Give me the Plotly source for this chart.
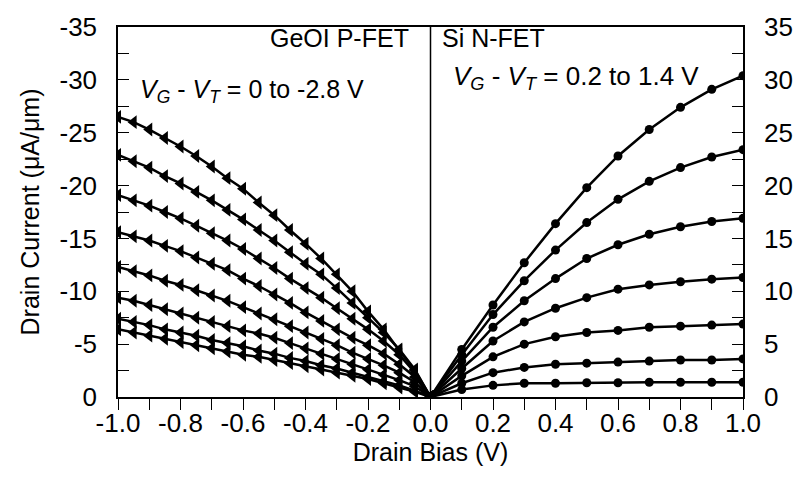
import plotly.graph_objects as go

# ---------------- data ----------------
# GeOI P-FET: drain bias 0 to -1.0 V (step 0.05), |I_D| in uA/um (plotted upward, labeled negative)
p_bias = [-1.0, -0.95, -0.9, -0.85, -0.8, -0.75, -0.7, -0.65, -0.6, -0.55, -0.5,
          -0.45, -0.4, -0.35, -0.3, -0.25, -0.2, -0.15, -0.1, -0.05, 0.0]
p_vgvt = ["-2.8", "-2.4", "-2.0", "-1.6", "-1.2", "-0.8", "-0.4", "0"]
p_curves = [
    [26.5, 26.0, 25.3, 24.5, 23.7, 22.8, 21.8, 20.7, 19.7, 18.4, 17.2, 15.8, 14.5, 13.1, 11.6, 10.0, 8.1, 6.4, 4.4, 2.5, 0.0],
    [22.9, 22.3, 21.7, 20.9, 20.2, 19.4, 18.6, 17.7, 16.8, 15.8, 14.8, 13.7, 12.6, 11.6, 10.3, 8.9, 7.5, 6.1, 4.5, 2.6, 0.0],
    [19.1, 18.6, 18.1, 17.5, 16.9, 16.2, 15.5, 14.8, 14.0, 13.1, 12.2, 11.2, 10.3, 9.4, 8.4, 7.4, 6.4, 5.3, 4.0, 2.3, 0.0],
    [15.6, 15.2, 14.8, 14.3, 13.8, 13.2, 12.6, 12.0, 11.2, 10.5, 9.7, 8.9, 8.0, 7.2, 6.4, 5.6, 4.9, 4.1, 3.1, 1.9, 0.0],
    [12.3, 11.9, 11.5, 11.0, 10.6, 10.1, 9.6, 9.1, 8.5, 7.9, 7.35, 6.7, 6.1, 5.5, 4.9, 4.2, 3.6, 3.0, 2.3, 1.4, 0.0],
    [9.4, 9.1, 8.7, 8.3, 7.9, 7.5, 7.1, 6.7, 6.3, 6.0, 5.6, 5.1, 4.6, 4.1, 3.6, 3.1, 2.6, 2.1, 1.6, 1.0, 0.0],
    [7.4, 7.1, 6.8, 6.4, 6.1, 5.8, 5.4, 5.1, 4.8, 4.4, 4.1, 3.7, 3.4, 3.0, 2.7, 2.3, 1.9, 1.5, 1.1, 0.6, 0.0],
    [6.4, 6.1, 5.8, 5.5, 5.2, 4.9, 4.6, 4.3, 4.0, 3.8, 3.5, 3.2, 2.9, 2.6, 2.3, 2.0, 1.7, 1.3, 0.9, 0.5, 0.0],
]

# Si N-FET: drain bias 0 to 1.0 V (step 0.1), I_D in uA/um
n_bias = [0.0, 0.1, 0.2, 0.3, 0.4, 0.5, 0.6, 0.7, 0.8, 0.9, 1.0]
n_vgvt = ["1.4", "1.2", "1.0", "0.8", "0.6", "0.4", "0.2"]
n_curves = [
    [0, 4.5, 8.7, 12.7, 16.4, 19.8, 22.8, 25.3, 27.4, 29.1, 30.4],
    [0, 4.0, 7.8, 11.0, 13.9, 16.5, 18.7, 20.4, 21.7, 22.7, 23.4],
    [0, 3.4, 6.6, 9.1, 11.2, 13.1, 14.4, 15.4, 16.1, 16.6, 16.9],
    [0, 2.7, 5.3, 7.1, 8.4, 9.4, 10.2, 10.6, 10.9, 11.15, 11.3],
    [0, 2.0, 3.8, 5.0, 5.7, 6.1, 6.3, 6.6, 6.7, 6.8, 6.9],
    [0, 1.3, 2.3, 2.8, 3.1, 3.2, 3.3, 3.4, 3.5, 3.5, 3.6],
    [0, 0.7, 1.1, 1.3, 1.3, 1.35, 1.35, 1.4, 1.4, 1.4, 1.4],
]

x_tickvals = [-1.0, -0.8, -0.6, -0.4, -0.2, 0.0, 0.2, 0.4, 0.6, 0.8, 1.0]
x_ticktext = ["-1.0", "-0.8", "-0.6", "-0.4", "-0.2", "0.0", "0.2", "0.4", "0.6", "0.8", "1.0"]
y_tickvals = [0, 5, 10, 15, 20, 25, 30, 35]
y_left_text = ["0", "-5", "-10", "-15", "-20", "-25", "-30", "-35"]
y_right_text = ["0", "5", "10", "15", "20", "25", "30", "35"]

# ---------------- figure ----------------
FONT = "Liberation Sans, Arial, sans-serif"
TICK_SIZE = 26
TITLE_SIZE = 25
ANN_SIZE = 25

fig = go.Figure()

for vg, ys in zip(p_vgvt, p_curves):
    fig.add_trace(go.Scatter(
        x=p_bias, y=ys, mode="lines+markers", name="P " + vg,
        line=dict(color="black", width=2.5),
        marker=dict(symbol="triangle-left", size=12, color="black"),
        showlegend=False))

for vg, ys in zip(n_vgvt, n_curves):
    fig.add_trace(go.Scatter(
        x=n_bias, y=ys, mode="lines+markers", name="N " + vg,
        line=dict(color="black", width=2.5),
        marker=dict(symbol="circle", size=9, color="black"),
        showlegend=False))

# invisible trace to activate right axis
fig.add_trace(go.Scatter(x=[0], y=[0], yaxis="y2", mode="markers",
                         marker=dict(opacity=0), showlegend=False, hoverinfo="skip"))

fig.add_shape(type="line", x0=0, x1=0, y0=0, y1=35, xref="x", yref="y",
              line=dict(color="black", width=1.5))

common = dict(showgrid=False, zeroline=False, showline=True, linecolor="black",
              linewidth=1.5, tickcolor="black", tickwidth=1.3,
              tickfont=dict(family=FONT, size=TICK_SIZE, color="black"))

fig.update_layout(
    width=805, height=478,
    margin=dict(l=118, r=59, t=22, b=81),
    paper_bgcolor="white", plot_bgcolor="white",
    font=dict(family=FONT, size=TITLE_SIZE, color="black"),
    xaxis=dict(range=[-1.0, 1.0], tickvals=x_tickvals, ticktext=x_ticktext,
               ticks="outside", ticklen=11,
               minor=dict(dtick=0.1, ticks="outside", ticklen=11, tickcolor="black", tickwidth=1.3),
               mirror=True, ticklabelstandoff=-9,
               title=dict(text="Drain Bias (V)", font=dict(family=FONT, size=TITLE_SIZE), standoff=0),
               **common),
    yaxis=dict(range=[0, 35], tickvals=y_tickvals, ticktext=y_left_text,
               ticks="inside", ticklen=11,
               minor=dict(dtick=2.5, ticks="inside", ticklen=11, tickcolor="black", tickwidth=1.3),
               ticklabelstandoff=14,
               title=dict(text="Drain Current (μA/μm)", font=dict(family=FONT, size=TITLE_SIZE), standoff=13),
               **common),
    yaxis2=dict(range=[0, 35], tickvals=y_tickvals, ticktext=y_right_text, overlaying="y", side="right",
                ticks="inside", ticklen=11,
                minor=dict(dtick=2.5, ticks="inside", ticklen=11, tickcolor="black", tickwidth=1.3),
                ticklabelstandoff=14, **common),
)

ann_font = dict(family=FONT, size=ANN_SIZE, color="black")
fig.add_annotation(x=-0.062, y=34.0, xref="x", yref="y", text="GeOI P-FET", showarrow=False,
                   xanchor="right", yanchor="middle", font=ann_font)
fig.add_annotation(x=0.03, y=34.0, xref="x", yref="y", text="Si N-FET", showarrow=False,
                   xanchor="left", yanchor="middle", font=ann_font)
fig.add_annotation(x=-0.937, y=28.9, xref="x", yref="y",
                   text="<i>V</i><sub><i>G</i></sub> - <i>V</i><sub><i>T</i></sub> = 0 to -2.8 V",
                   showarrow=False, xanchor="left", yanchor="middle", font=ann_font)
fig.add_annotation(x=0.064, y=30.2, xref="x", yref="y",
                   text="<i>V</i><sub><i>G</i></sub> - <i>V</i><sub><i>T</i></sub> = 0.2 to 1.4 V",
                   showarrow=False, xanchor="left", yanchor="middle",
                   font=dict(family=FONT, size=26, color="black"))

fig.write_html("out.html")
